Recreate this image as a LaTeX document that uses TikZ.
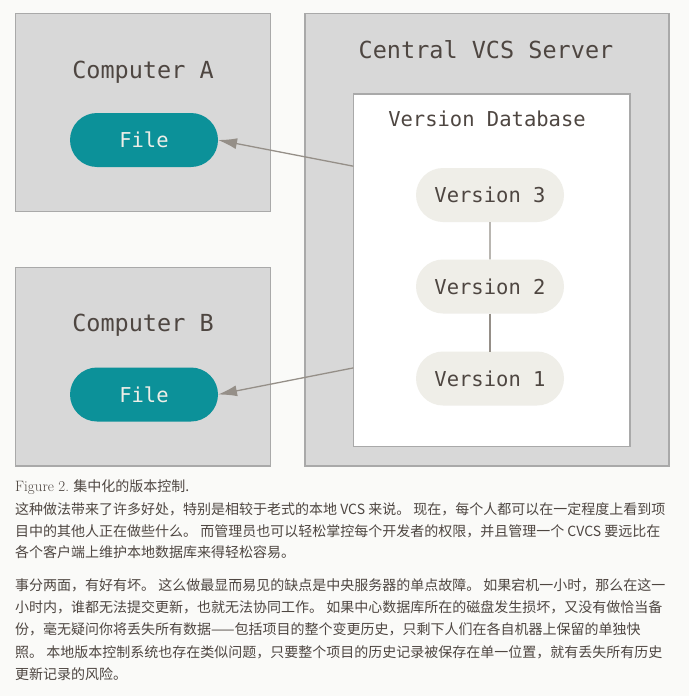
\documentclass[tikz,border=0pt]{standalone}
\usepackage{fontspec}
\newfontfamily\diafont{DejaVu Sans Mono}
\newfontfamily\cjk{Noto Sans CJK SC}
\usetikzlibrary{arrows.meta}
\usetikzlibrary{shapes.misc}

\definecolor{pagebg}{HTML}{FAFAF8}
\definecolor{boxgray}{HTML}{D8D8D8}
\definecolor{boxline}{HTML}{A9A9A9}
\definecolor{filecol}{HTML}{0C9199}
\definecolor{vercol}{HTML}{EFEEE8}
\definecolor{ink}{HTML}{4E4641}
\definecolor{linkgray}{HTML}{958F88}

\begin{document}
\begin{tikzpicture}[
    x = 1pt, y = -1pt,
    >={Latex[length=19pt, width=11pt]},
    box/.style = {
      draw = boxline, fill = boxgray, line width = 1.2pt,
      inner sep = 0pt, outer sep = 0pt,
    },
    heading/.style = {text = ink, font = \diafont\fontsize{23.5}{28}\selectfont},
    small/.style = {text = ink, font = \diafont\fontsize{20.5}{24}\selectfont},
    pill/.style = {
      rounded rectangle, small, inner sep = 0pt, outer sep = 0pt,
      minimum width = 148pt, minimum height = 54pt,
    },
    filepill/.style = {pill, fill = filecol, text = vercol},
    verpill/.style = {pill, fill = vercol},
    conn/.style = {draw = linkgray, line width = 1.3pt},
    txtline/.style = {
      anchor = west, inner sep = 0pt, text = ink,
      font = \cjk\fontsize{14}{20}\selectfont,
    },
  ]

  \fill[pagebg] (0,0) rectangle (689,696);

  % the two clients
  \node[box, minimum width = 255.4pt, minimum height = 198.4pt] (compA) at (143,112.5) {};
  \node[heading] (compAname) at (143,72) {Computer A};
  \node[filepill] (fileA) at (144,140) {File};

  \node[box, minimum width = 255.4pt, minimum height = 198.3pt] (compB) at (143,366.9) {};
  \node[heading] (compBname) at (143,325.7) {Computer B};
  \node[filepill] (fileB) at (144,394.5) {File};

  % the server
  \node[box, minimum width = 364pt, minimum height = 452.7pt] (server) at (487,239.7) {};
  \node[heading] (servername) at (486,50) {Central VCS Server};

  \node[box, fill = white, minimum width = 276.7pt, minimum height = 352.3pt] (db) at (491.7,270.2) {};
  \node[small] (dbname) at (487,119) {Version Database};

  \node[verpill] (v3) at (490,195) {Version 3};
  \node[verpill] (v2) at (490,286.5) {Version 2};
  \node[verpill] (v1) at (490,378.5) {Version 1};

  \draw[conn] (v3) -- (v2);
  \draw[conn] (v2) -- (v1);

  \draw[conn, ->] ([yshift=104pt]db.west) -- (fileA.east);
  \draw[conn, ->] ([yshift=-97.7pt]db.west) -- (fileB.east);

  % caption and text below
  \node[txtline] (caption) at (15,487) {{\rmfamily\fontsize{15}{20}\selectfont Figure 2.} 集中化的版本控制.};

  \node[txtline] (p1a) at (15,509.5) {这种做法带来了许多好处，特别是相较于老式的本地 VCS 来说。 现在，每个人都可以在一定程度上看到项};
  \node[txtline] (p1b) at (15,531) {目中的其他人正在做些什么。 而管理员也可以轻松掌控每个开发者的权限，并且管理一个 CVCS 要远比在};
  \node[txtline] (p1c) at (15,552.5) {各个客户端上维护本地数据库来得轻松容易。};

  \node[txtline] (p2a) at (15,585.5) {事分两面，有好有坏。 这么做最显而易见的缺点是中央服务器的单点故障。 如果宕机一小时，那么在这一};
  \node[txtline] (p2b) at (15,607.5) {小时内，谁都无法提交更新，也就无法协同工作。 如果中心数据库所在的磁盘发生损坏，又没有做恰当备};
  \node[txtline] (p2c) at (15,629.7) {份，毫无疑问你将丢失所有数据——包括项目的整个变更历史，只剩下人们在各自机器上保留的单独快};
  \node[txtline] (p2d) at (15,652) {照。 本地版本控制系统也存在类似问题，只要整个项目的历史记录被保存在单一位置，就有丢失所有历史};
  \node[txtline] (p2e) at (15,674) {更新记录的风险。};
\end{tikzpicture}
\end{document}
